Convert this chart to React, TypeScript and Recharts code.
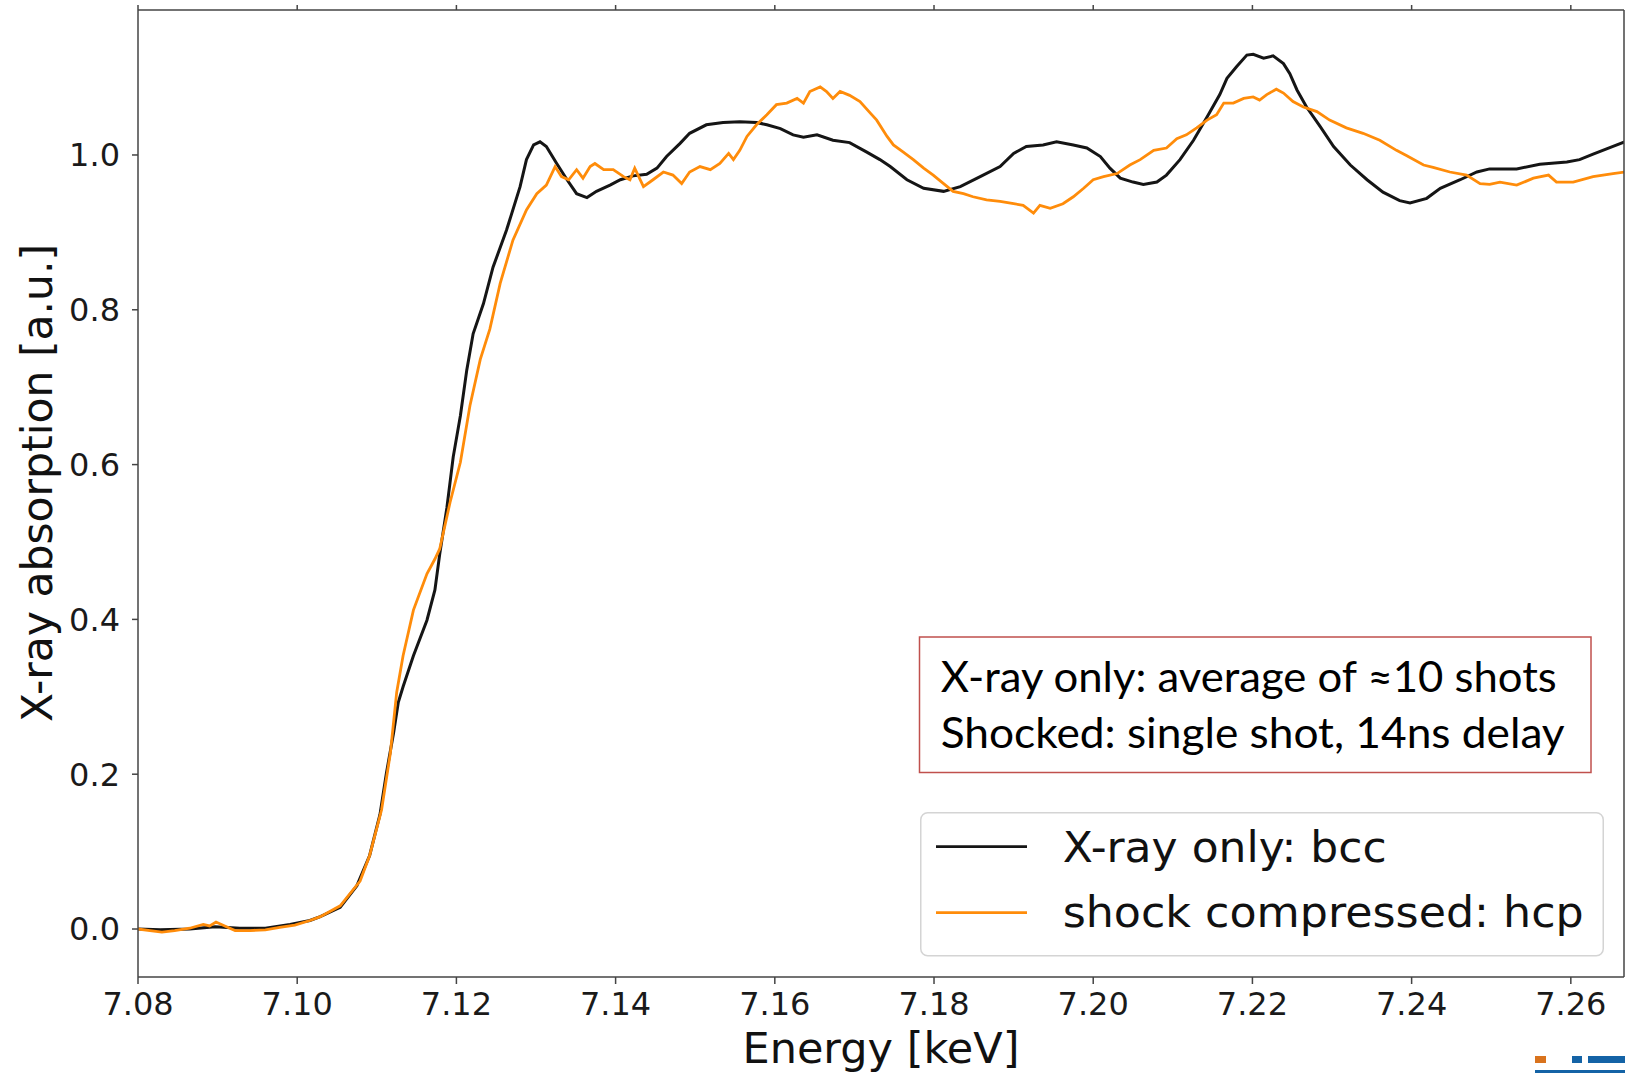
import React from "react";
import { LineChart, Line, XAxis, YAxis, Legend } from "recharts";

const W = 1625;
const H = 1073;

const xTicks = [7.08, 7.1, 7.12, 7.14, 7.16, 7.18, 7.2, 7.22, 7.24, 7.26];
const yTicks = [0, 0.2, 0.4, 0.6, 0.8, 1.0];
const xDomain: [number, number] = [7.08, 7.26668];
const yDomain: [number, number] = [-0.062, 1.1873];

const seriesNames = ["X-ray only: bcc", "shock compressed: hcp"];
const noteLines = ["X-ray only: average of ≈10 shots", "Shocked: single shot, 14ns delay"];

// [energy keV, absorption]
const bccCurve: [number, number][] = [
  [7.08, 0.0], [7.0828, -0.001], [7.0865, 0.0], [7.0897, 0.003], [7.0928, 0.001],
  [7.096, 0.001], [7.0991, 0.006], [7.1016, 0.011], [7.1029, 0.016], [7.1054, 0.028],
  [7.1075, 0.056], [7.1091, 0.095], [7.1104, 0.148], [7.1112, 0.201], [7.1121, 0.253],
  [7.1127, 0.293], [7.1133, 0.313], [7.1146, 0.353], [7.1163, 0.399], [7.1173, 0.438],
  [7.1179, 0.484], [7.1188, 0.544], [7.1196, 0.61], [7.1205, 0.663], [7.1213, 0.722],
  [7.1221, 0.769], [7.1234, 0.808], [7.1246, 0.855], [7.1263, 0.903], [7.128, 0.959],
  [7.1288, 0.994], [7.1297, 1.013], [7.1305, 1.017], [7.1313, 1.011], [7.1326, 0.989],
  [7.1339, 0.968], [7.1351, 0.95], [7.1364, 0.945], [7.1376, 0.953], [7.1393, 0.961],
  [7.1406, 0.968], [7.1422, 0.973], [7.1439, 0.975], [7.1452, 0.983], [7.1464, 0.998],
  [7.1481, 1.015], [7.1493, 1.028], [7.1514, 1.039], [7.1535, 1.042], [7.1556, 1.043],
  [7.1577, 1.042], [7.159, 1.039], [7.1607, 1.034], [7.1623, 1.026], [7.1636, 1.023],
  [7.1653, 1.026], [7.1673, 1.019], [7.1694, 1.016], [7.1715, 1.004], [7.1732, 0.994],
  [7.1745, 0.985], [7.1766, 0.968], [7.1787, 0.957], [7.1812, 0.953], [7.1833, 0.959],
  [7.1858, 0.972], [7.1883, 0.985], [7.19, 1.002], [7.1916, 1.011], [7.1937, 1.013],
  [7.1954, 1.017], [7.1975, 1.013], [7.1992, 1.009], [7.2009, 0.998], [7.2021, 0.983],
  [7.2034, 0.97], [7.205, 0.965], [7.2063, 0.962], [7.208, 0.965], [7.2092, 0.974],
  [7.2109, 0.994], [7.2126, 1.019], [7.2143, 1.049], [7.2159, 1.078], [7.2168, 1.099],
  [7.218, 1.114], [7.2193, 1.129], [7.2201, 1.13], [7.2214, 1.125], [7.2226, 1.128],
  [7.2239, 1.118], [7.2247, 1.105], [7.2256, 1.084], [7.2268, 1.062], [7.2285, 1.037],
  [7.2302, 1.011], [7.2323, 0.987], [7.2344, 0.968], [7.2364, 0.952], [7.2385, 0.941],
  [7.2398, 0.938], [7.2419, 0.944], [7.2436, 0.957], [7.2461, 0.968], [7.2482, 0.978],
  [7.2498, 0.982], [7.2532, 0.982], [7.2561, 0.988], [7.2595, 0.991], [7.2611, 0.994],
  [7.2628, 1.001], [7.2653, 1.011], [7.2668, 1.017],
];

const hcpCurve: [number, number][] = [
  [7.08, 0.0], [7.0815, -0.002], [7.083, -0.004], [7.0846, -0.002], [7.0865, 0.001],
  [7.0882, 0.006], [7.089, 0.004], [7.0898, 0.009], [7.0909, 0.004], [7.0922, -0.002],
  [7.0941, -0.002], [7.096, -0.001], [7.0978, 0.002], [7.0997, 0.005], [7.1016, 0.011],
  [7.1029, 0.016], [7.1054, 0.03], [7.1079, 0.062], [7.1091, 0.095], [7.1106, 0.154],
  [7.1117, 0.227], [7.1125, 0.306], [7.1133, 0.353], [7.1146, 0.412], [7.1163, 0.459],
  [7.1173, 0.478], [7.1179, 0.491], [7.1192, 0.551], [7.1205, 0.603], [7.1217, 0.676],
  [7.123, 0.736], [7.1242, 0.775], [7.1255, 0.834], [7.1271, 0.89], [7.1288, 0.929],
  [7.1301, 0.95], [7.1313, 0.961], [7.1324, 0.985], [7.1332, 0.972], [7.1341, 0.968],
  [7.1351, 0.981], [7.1359, 0.97], [7.1368, 0.985], [7.1374, 0.989], [7.1385, 0.981],
  [7.1397, 0.981], [7.141, 0.972], [7.1418, 0.968], [7.1424, 0.983], [7.1435, 0.959],
  [7.1447, 0.968], [7.146, 0.978], [7.1472, 0.974], [7.1483, 0.963], [7.1493, 0.978],
  [7.1506, 0.985], [7.1519, 0.981], [7.1531, 0.989], [7.1542, 1.002], [7.1548, 0.994],
  [7.1556, 1.006], [7.1565, 1.024], [7.1577, 1.039], [7.159, 1.052], [7.1602, 1.065],
  [7.1615, 1.067], [7.1628, 1.073], [7.1636, 1.067], [7.1644, 1.082], [7.1657, 1.088],
  [7.1665, 1.082], [7.1673, 1.073], [7.1682, 1.082], [7.1694, 1.077], [7.1707, 1.069],
  [7.172, 1.054], [7.1728, 1.045], [7.1741, 1.024], [7.1749, 1.013], [7.1761, 1.004],
  [7.1774, 0.994], [7.1787, 0.983], [7.1799, 0.974], [7.1812, 0.963], [7.1824, 0.953],
  [7.1837, 0.95], [7.1849, 0.946], [7.1866, 0.942], [7.1883, 0.94], [7.19, 0.937],
  [7.1912, 0.935], [7.1925, 0.925], [7.1933, 0.935], [7.1946, 0.931], [7.1962, 0.937],
  [7.1975, 0.946], [7.1988, 0.957], [7.2, 0.968], [7.2013, 0.972], [7.203, 0.976],
  [7.2046, 0.987], [7.2059, 0.994], [7.2076, 1.006], [7.2092, 1.009], [7.2105, 1.021],
  [7.2117, 1.026], [7.213, 1.035], [7.2143, 1.045], [7.2155, 1.052], [7.2164, 1.067],
  [7.2176, 1.067], [7.2189, 1.073], [7.2201, 1.075], [7.2209, 1.071], [7.2218, 1.078],
  [7.223, 1.085], [7.2239, 1.08], [7.2251, 1.069], [7.2264, 1.062], [7.2281, 1.056],
  [7.2297, 1.045], [7.2318, 1.035], [7.2339, 1.028], [7.236, 1.019], [7.2381, 1.006],
  [7.2394, 0.999], [7.2415, 0.987], [7.2427, 0.984], [7.2448, 0.978], [7.2469, 0.974],
  [7.2486, 0.963], [7.2498, 0.962], [7.2511, 0.965], [7.2532, 0.961], [7.2553, 0.97],
  [7.2572, 0.974], [7.2582, 0.965], [7.2603, 0.965], [7.2628, 0.972], [7.2653, 0.976],
  [7.2668, 0.978],
];

const toRows = (pts: [number, number][]) => pts.map(([e, v]) => ({ e, v }));

const AXIS = "#444";
const TICK_FONT = { fill: "#1a1a1a", fontSize: 32, fontFamily: "DejaVu Sans" };

// eslint-disable-next-line @typescript-eslint/no-explicit-any
function LegendBox({ payload }: any) {
  const items = (payload || []).map((p: any, i: number) => ({
    name: p.value ?? seriesNames[i],
    color: p.color,
  }));
  const widths = [324, 521];
  return (
    <svg width={684} height={145} style={{ display: "block" }}>
      <rect x={0.75} y={0.75} width={682.5} height={143} rx={7} fill="#fff" fillOpacity={0.8} stroke="#d4d4d4" strokeWidth={1.5} />
      {items.map((it: any, i: number) => (
        <g key={it.name}>
          <line x1={16} x2={107} y1={34.7 + i * 66} y2={34.7 + i * 66} stroke={it.color} strokeWidth={2.8} />
          <text
            x={142.7}
            y={49.7 + i * 65}
            fontSize={42}
            fontFamily="DejaVu Sans"
            fill="#111"
            textLength={widths[i]}
            lengthAdjust="spacingAndGlyphs"
          >
            {it.name}
          </text>
        </g>
      ))}
    </svg>
  );
}

export default function App() {
  return (
    <div style={{ position: "absolute", left: 0, top: 0, width: W, height: H, background: "#fff" }}>
      <LineChart
        width={W}
        height={H}
        margin={{ top: 9, right: 0, bottom: 0, left: 0 }}
        style={{ fontFamily: "DejaVu Sans" }}
      >
        <XAxis
          xAxisId="bottom"
          dataKey="e"
          type="number"
          domain={xDomain}
          allowDataOverflow
          ticks={xTicks}
          interval={0}
          height={96}
          tickSize={7}
          tickMargin={8}
          tick={TICK_FONT}
          tickFormatter={(v: number) => v.toFixed(2)}
          axisLine={{ stroke: AXIS, strokeWidth: 1.5 }}
          tickLine={{ stroke: AXIS, strokeWidth: 1.5 }}
        />
        <XAxis
          xAxisId="top"
          orientation="top"
          dataKey="e"
          type="number"
          domain={xDomain}
          allowDataOverflow
          ticks={xTicks}
          interval={0}
          height={1}
          tickSize={5}
          tickFormatter={() => ""}
          axisLine={{ stroke: AXIS, strokeWidth: 1.5 }}
          tickLine={{ stroke: AXIS, strokeWidth: 1.5 }}
        />
        <YAxis
          yAxisId="left"
          type="number"
          domain={yDomain}
          allowDataOverflow
          ticks={yTicks}
          interval={0}
          width={138}
          tickSize={6}
          tickMargin={12}
          tick={TICK_FONT}
          tickFormatter={(v: number) => v.toFixed(1)}
          axisLine={{ stroke: AXIS, strokeWidth: 1.5 }}
          tickLine={{ stroke: AXIS, strokeWidth: 1.5 }}
        />
        <YAxis
          yAxisId="right"
          orientation="right"
          type="number"
          domain={yDomain}
          allowDataOverflow
          width={1}
          tick={false}
          tickLine={false}
          axisLine={{ stroke: AXIS, strokeWidth: 1.5 }}
        />
        <Legend
          layout="vertical"
          align="center"
          verticalAlign="middle"
          content={<LegendBox />}
          wrapperStyle={{ position: "absolute", left: 920, top: 812, width: 684, height: 145 }}
        />
        <Line
          xAxisId="bottom"
          yAxisId="left"
          data={toRows(bccCurve)}
          dataKey="v"
          name={seriesNames[0]}
          type="linear"
          stroke="#151515"
          strokeWidth={3}
          dot={false}
          activeDot={false}
          isAnimationActive={false}
        />
        <Line
          xAxisId="bottom"
          yAxisId="left"
          data={toRows(hcpCurve)}
          dataKey="v"
          name={seriesNames[1]}
          type="linear"
          stroke="#ff8c0a"
          strokeWidth={2.8}
          dot={false}
          activeDot={false}
          isAnimationActive={false}
        />
      </LineChart>

      <svg
        width={W}
        height={H}
        style={{ position: "absolute", left: 0, top: 0, pointerEvents: "none" }}
      >
        <text x={881} y={1063} textAnchor="middle" fontSize={43} fontFamily="DejaVu Sans" fill="#111">
          Energy [keV]
        </text>
        <text
          transform="translate(52,483) rotate(-90)"
          textAnchor="middle"
          fontSize={42.5}
          fontFamily="DejaVu Sans"
          fill="#111"
        >
          X-ray absorption [a.u.]
        </text>

        <rect x={919.5} y={637} width={671.5} height={135.5} fill="#fff" stroke="#c0504d" strokeWidth={1.5} />
        <text x={940.7} y={691.7} fontSize={42} fontFamily="Lato" fill="#000" textLength={616} lengthAdjust="spacingAndGlyphs">
          {noteLines[0]}
        </text>
        <text x={940.7} y={748.3} fontSize={42} fontFamily="Lato" fill="#000" textLength={624} lengthAdjust="spacingAndGlyphs">
          {noteLines[1]}
        </text>

        {/* cropped logo in the corner */}
        <rect x={1535} y={1056} width={11} height={7} fill="#d9731d" />
        <rect x={1572} y={1056} width={10} height={7} fill="#1463a6" />
        <rect x={1588} y={1056} width={37} height={7} fill="#1463a6" />
        <rect x={1535} y={1070} width={90} height={3} fill="#1463a6" />
      </svg>
    </div>
  );
}
